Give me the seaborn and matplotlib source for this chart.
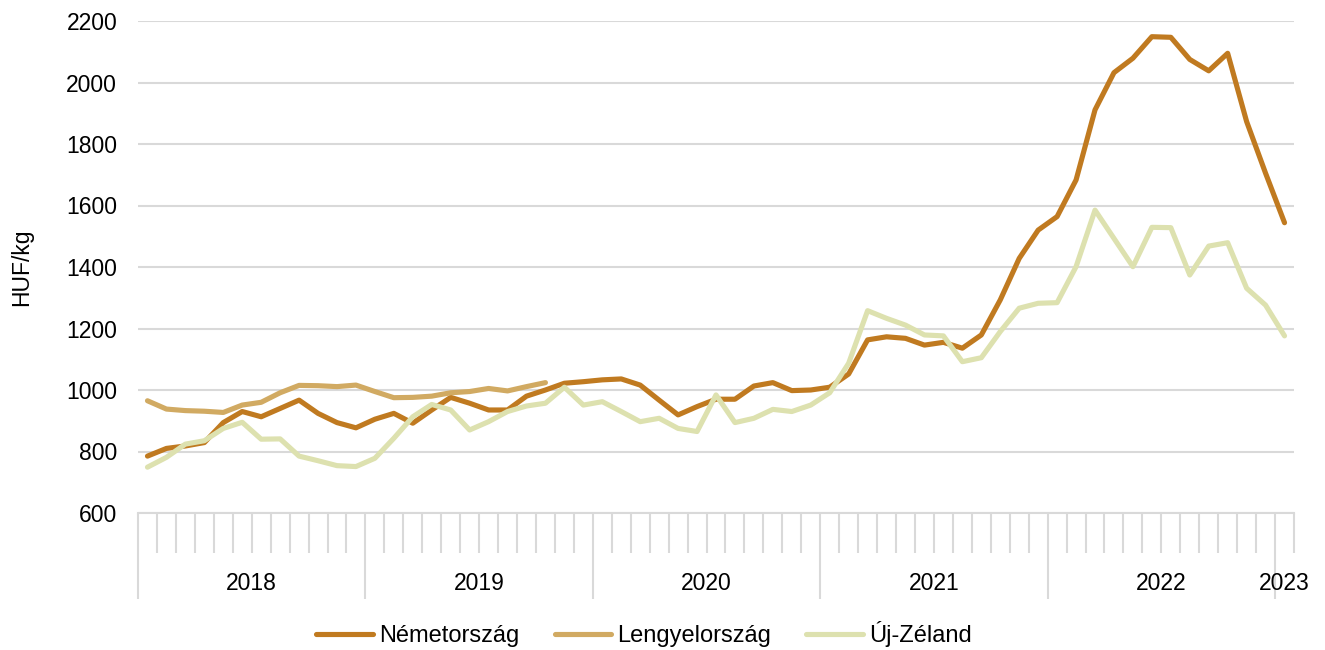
import numpy as np
import pandas as pd
import matplotlib
matplotlib.use("Agg")
import matplotlib.pyplot as plt
import matplotlib.transforms as mtransforms
import seaborn as sns

# ─────────────────────────────────────────────
# Data (monthly, Jan 2018 – Jan 2023), HUF/kg
# ─────────────────────────────────────────────

YEARS = ["2018", "2019", "2020", "2021", "2022", "2023"]
MONTHS_PER_YEAR = [12, 12, 12, 12, 12, 1]

germany = [
    785, 810, 818, 829, 894, 930, 913, 940, 967, 924, 894, 877,
    905, 924, 892, 935, 976, 957, 935, 935, 980, 1000, 1022, 1027,
    1033, 1036, 1016, 967, 919, 946, 970, 970, 1013, 1024, 998, 1000,
    1009, 1052, 1163, 1173, 1168, 1146, 1155, 1136, 1179, 1293, 1428, 1520,
    1564, 1683, 1911, 2032, 2079, 2149, 2147, 2075, 2038, 2095, 1873, 1705,
    1544,
]
poland = [
    965, 938, 933, 931, 927, 951, 960, 991, 1015, 1014, 1011, 1016,
    995, 975, 976, 980, 991, 995, 1005, 997, 1011, 1024,
]
new_zealand = [
    749, 781, 824, 835, 875, 895, 840, 841, 785, 770, 754, 751,
    778, 843, 913, 953, 935, 870, 897, 930, 948, 957, 1009, 951,
    962, 930, 897, 908, 875, 865, 984, 894, 908, 937, 930, 951,
    991, 1087, 1258, 1233, 1211, 1179, 1176, 1092, 1105, 1190, 1266, 1282,
    1284, 1401, 1585, 1493, 1401, 1529, 1528, 1374, 1468, 1479, 1331, 1276,
    1176,
]

SERIES_NAMES = ["Németország", "Lengyelország", "Új-Zéland"]
COLORS = ["#C07A20", "#D1AA62", "#DDE1AF"]
Y_TICKS = [600, 800, 1000, 1200, 1400, 1600, 1800, 2000, 2200]

GRID_COLOR = "#D9D9D9"
FONT_SIZE = 16.5

# ─────────────────────────────────────────────
# Long-form table for seaborn
# ─────────────────────────────────────────────

frames = []
for name, values in zip(SERIES_NAMES, [germany, poland, new_zealand]):
    frames.append(pd.DataFrame({
        "month": np.arange(len(values)),
        "value": values,
        "country": name,
    }))
df = pd.concat(frames, ignore_index=True)
n_months = sum(MONTHS_PER_YEAR)

sns.set_theme(style="white")
plt.rcParams["font.family"] = ["Liberation Sans", "DejaVu Sans"]
plt.rcParams["text.color"] = "black"

fig = plt.figure(figsize=(13.25, 6.5), dpi=100)
ax = fig.add_axes([138 / 1325, 1 - 513 / 650, (1294 - 138) / 1325, (513 - 21) / 650])

sns.lineplot(
    data=df, x="month", y="value", hue="country",
    hue_order=SERIES_NAMES, palette=COLORS,
    linewidth=3.7, ax=ax,
)

# y axis + grid
ax.set_ylim(600, 2200)
ax.set_yticks(Y_TICKS)
ax.yaxis.grid(True, color=GRID_COLOR, linewidth=1.5)
ax.set_axisbelow(True)
ax.tick_params(axis="y", length=0, pad=15, labelsize=FONT_SIZE, labelcolor="black")
ax.set_ylabel("")
ax.set_xlabel("")

for side in ["left", "top", "right"]:
    ax.spines[side].set_visible(False)
ax.spines["bottom"].set_color(GRID_COLOR)
ax.spines["bottom"].set_linewidth(1.5)

# category-style x axis: month ticks short, year separators long
ax.set_xlim(-0.5, n_months - 0.5)
year_edges = np.concatenate([[0], np.cumsum(MONTHS_PER_YEAR)]) - 0.5
ax.set_xticks(year_edges[:-1])
ax.set_xticks(np.arange(n_months + 1) - 0.5, minor=True)
ax.set_xticklabels([])
ax.tick_params(axis="x", which="both", bottom=True, direction="out")
ax.tick_params(axis="x", which="major", length=62, width=1.5, color=GRID_COLOR)
ax.tick_params(axis="x", which="minor", length=29, width=1.5, color=GRID_COLOR)

trans = mtransforms.blended_transform_factory(ax.transData, ax.transAxes)
for label, start, end in zip(YEARS, year_edges[:-1], year_edges[1:]):
    ax.text((start + end) / 2, -0.1443, label, transform=trans,
            ha="center", va="center", fontsize=FONT_SIZE, color="black")

fig.text(22 / 1325, 1 - 267 / 650, "HUF/kg", rotation=90,
         ha="center", va="center", fontsize=FONT_SIZE, color="black")

handles, labels = ax.get_legend_handles_labels()
ax.get_legend().remove()
leg = fig.legend(
    handles, labels, loc="center", bbox_to_anchor=(644 / 1325, 1 - 634 / 650),
    ncol=3, frameon=False, fontsize=17,
    handlelength=2.4, handletextpad=0.25, columnspacing=1.5,
)
for txt in leg.get_texts():
    txt.set_color("black")

fig.savefig("out.png", dpi=100)
plt.close(fig)
